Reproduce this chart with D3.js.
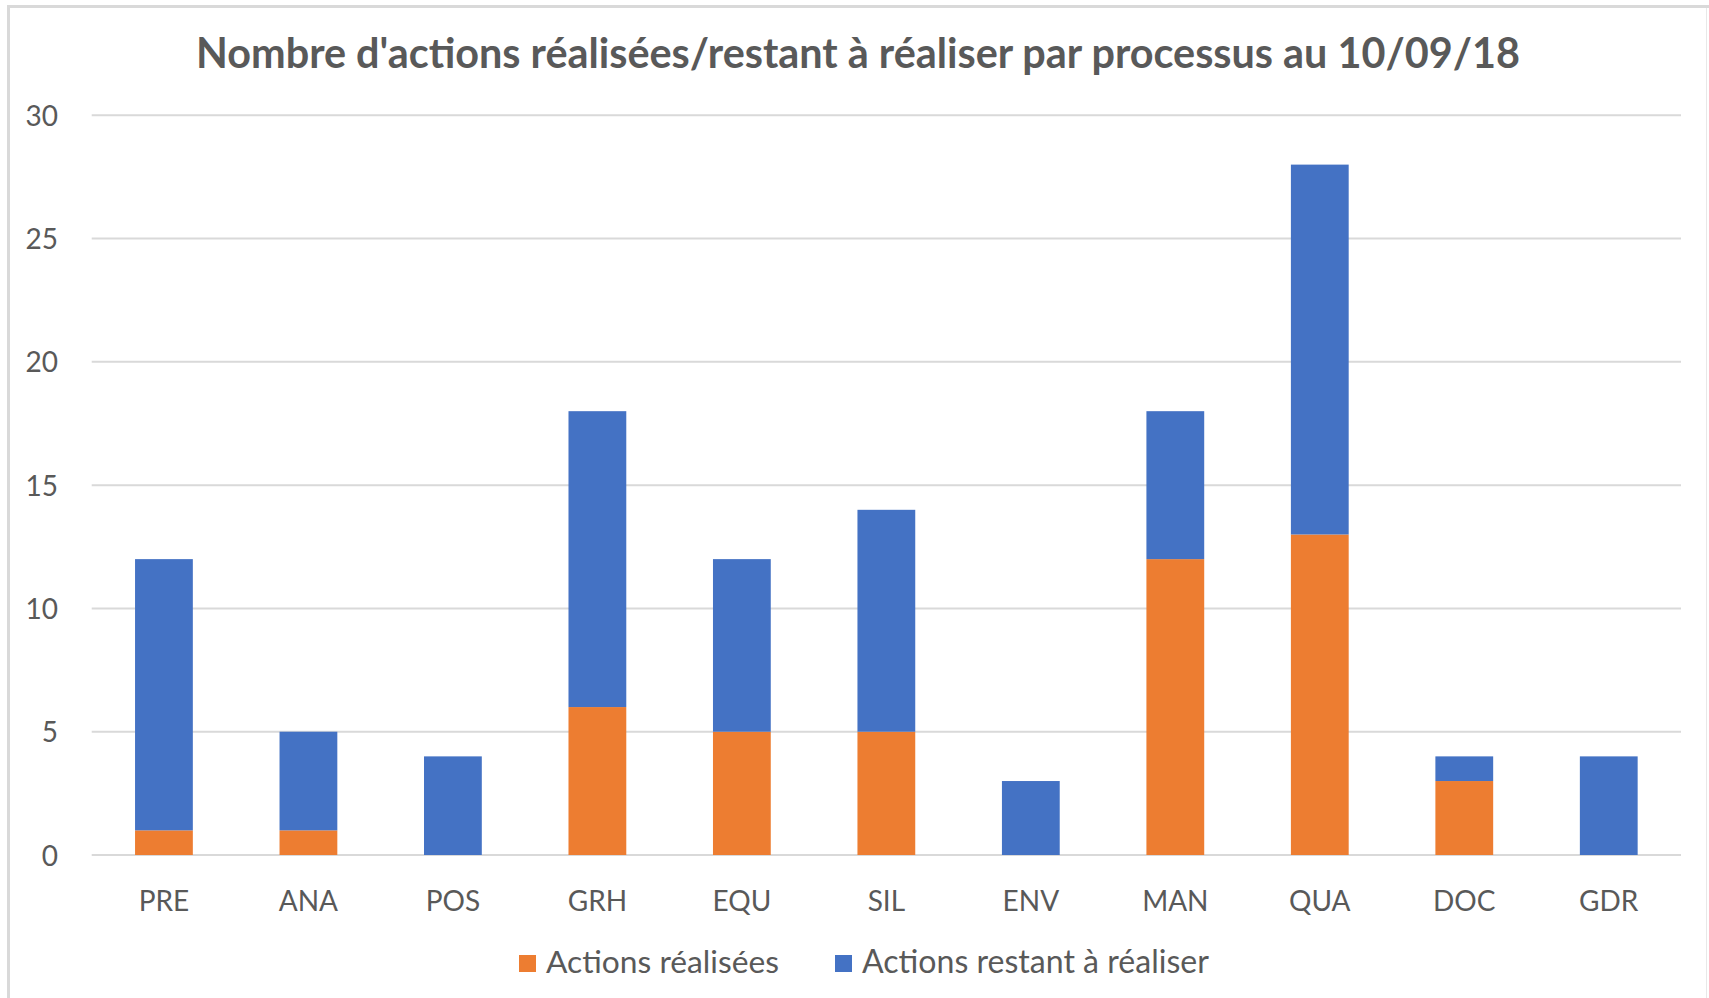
<!DOCTYPE html>
<html>
<head>
<meta charset="utf-8">
<script src="https://cdn.jsdelivr.net/npm/d3@7"></script>
<style>
  html, body { margin: 0; padding: 0; background: #fff; }
  svg { display: block; }
</style>
</head>
<body>
<svg id="chart" width="1709" height="998"></svg>
<script>
const categories = ["PRE", "ANA", "POS", "GRH", "EQU", "SIL", "ENV", "MAN", "QUA", "DOC", "GDR"];
const realisees = [1, 1, 0, 6, 5, 5, 0, 12, 13, 3, 0];
const restant = [11, 4, 4, 12, 7, 9, 3, 6, 15, 1, 4];
const seriesNames = ["Actions réalisées", "Actions restant à réaliser"];
const seriesColors = ["#ED7D31", "#4472C4"];
const yTicks = [0, 5, 10, 15, 20, 25, 30];
const titleText = "Nombre d'actions réalisées/restant à réaliser par processus au 10/09/18";

const svg = d3.select("#chart");
const W = 1709, H = 998;
const font = "Lato, 'Open Sans', sans-serif";
const textColor = "#595959";

// frame
svg.append("rect").attr("x", 0).attr("y", 0).attr("width", W).attr("height", H).attr("fill", "#fff");
svg.append("line").attr("x1", 8.5).attr("x2", 8.5).attr("y1", 5).attr("y2", H).attr("stroke", "#d9d9d9").attr("stroke-width", 3);
svg.append("line").attr("x1", 7).attr("x2", W).attr("y1", 6.5).attr("y2", 6.5).attr("stroke", "#d9d9d9").attr("stroke-width", 3);
svg.append("line").attr("x1", 1706.5).attr("x2", 1706.5).attr("y1", 8).attr("y2", H).attr("stroke", "#e8e8e8").attr("stroke-width", 1);

const plotLeft = 91.7, plotRight = 1681, plotTop = 115.3, plotBottom = 855;
const x = d3.scaleBand().domain(categories).range([plotLeft, plotRight]).paddingInner(0.6).paddingOuter(0.3);
const y = d3.scaleLinear().domain([0, 30]).range([plotBottom, plotTop]);

// gridlines
const grid = svg.append("g");
grid.selectAll("line").data(yTicks).join("line")
  .attr("x1", plotLeft).attr("x2", plotRight)
  .attr("y1", d => y(d)).attr("y2", d => y(d))
  .attr("stroke", "#d9d9d9").attr("stroke-width", 2);

// y axis labels via d3 axis
const yAxis = d3.axisLeft(y).tickValues(yTicks).tickSize(0).tickPadding(0);
const gy = svg.append("g").attr("transform", "translate(58,0)").call(yAxis);
gy.select(".domain").remove();
gy.selectAll("text").attr("font-family", font).attr("font-size", 28).attr("fill", textColor).attr("dy", "0.36em");

// x axis labels
const xAxis = d3.axisBottom(x).tickSize(0).tickPadding(0);
const gx = svg.append("g").attr("transform", "translate(0,911)").call(xAxis);
gx.select(".domain").remove();
gx.selectAll("text").attr("font-family", font).attr("font-size", 28).attr("fill", textColor).attr("dy", 0);

// stacked data
const rows = categories.map((c, i) => ({ cat: c, a: realisees[i], b: restant[i] }));
const stack = d3.stack().keys(["a", "b"]);
const stacked = stack(rows);

const layers = svg.append("g").selectAll("g").data(stacked).join("g")
  .attr("fill", (d, i) => seriesColors[i]);
layers.selectAll("rect").data(d => d.filter(s => s[1] - s[0] > 0)).join("rect")
  .attr("x", d => x(d.data.cat))
  .attr("width", x.bandwidth())
  .attr("y", d => y(d[1]))
  .attr("height", d => y(d[0]) - y(d[1]));

// title, fitted to target width
const title = svg.append("text").attr("x", 858).attr("y", 68).attr("text-anchor", "middle")
  .attr("font-family", font).attr("font-weight", "bold").attr("font-size", 40).attr("fill", textColor)
  .text(titleText);
{
  const w = title.node().getComputedTextLength();
  title.attr("font-size", 40 * 1324 / w);
}

// legend
const legendItems = [
  { name: seriesNames[0], color: seriesColors[0], sx: 519, tx: 546, tw: 233 },
  { name: seriesNames[1], color: seriesColors[1], sx: 835, tx: 862, tw: 347 }
];
const lg = svg.append("g");
legendItems.forEach(it => {
  lg.append("rect").attr("x", it.sx).attr("y", 955).attr("width", 17).attr("height", 17).attr("fill", it.color);
  const t = lg.append("text").attr("x", it.tx).attr("y", 973).attr("font-family", font).attr("font-size", 28).attr("fill", textColor).text(it.name);
  const w = t.node().getComputedTextLength();
  t.attr("font-size", 28 * it.tw / w);
});
</script>
</body>
</html>
